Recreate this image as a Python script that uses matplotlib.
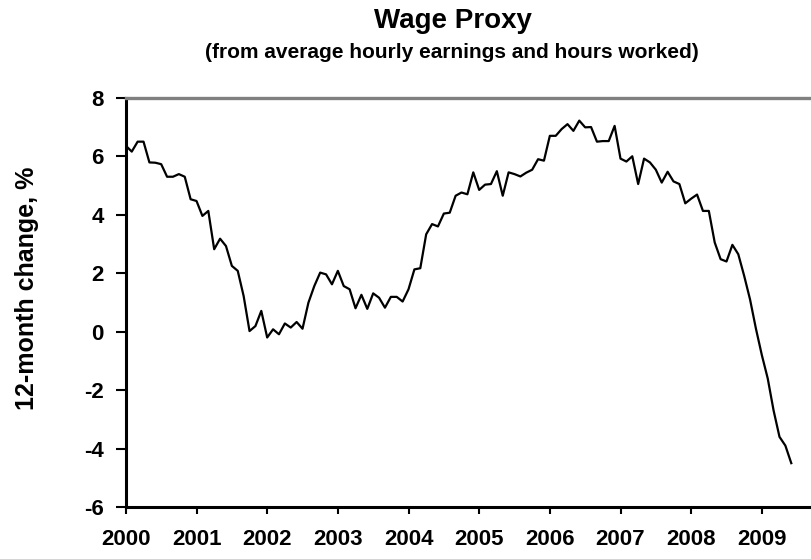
import numpy as np
import matplotlib
matplotlib.use("Agg")
import matplotlib.pyplot as plt

plt.rcParams['font.family'] = ['Liberation Sans', 'DejaVu Sans']
plt.rcParams['font.weight'] = 'bold'

# monthly 12-month change, Jan 2000 .. Jun 2009
wage_proxy = [
    6.36, 6.16, 6.50, 6.50, 5.79, 5.78, 5.73, 5.30, 5.30, 5.39, 5.30, 4.53,   # 2000
    4.47, 3.96, 4.13, 2.82, 3.18, 2.93, 2.25, 2.08, 1.22, 0.02, 0.19, 0.71,   # 2001
    -0.20, 0.08, -0.09, 0.28, 0.14, 0.33, 0.10, 0.99, 1.56, 2.02, 1.96, 1.62,  # 2002
    2.08, 1.56, 1.45, 0.80, 1.26, 0.78, 1.31, 1.16, 0.82, 1.19, 1.19, 1.03,   # 2003
    1.45, 2.13, 2.17, 3.33, 3.68, 3.60, 4.04, 4.07, 4.65, 4.76, 4.70, 5.45,   # 2004
    4.85, 5.03, 5.05, 5.49, 4.65, 5.45, 5.39, 5.31, 5.44, 5.54, 5.90, 5.85,   # 2005
    6.70, 6.70, 6.93, 7.10, 6.87, 7.22, 6.99, 7.00, 6.50, 6.52, 6.52, 7.04,   # 2006
    5.92, 5.82, 6.00, 5.05, 5.92, 5.79, 5.54, 5.10, 5.47, 5.14, 5.05, 4.39,   # 2007
    4.55, 4.69, 4.13, 4.13, 3.05, 2.48, 2.40, 2.97, 2.65, 1.91, 1.10, 0.10,   # 2008
    -0.80, -1.60, -2.70, -3.60, -3.90, -4.50,                                 # 2009
]
years = list(range(2000, 2010))
yticks = [-6, -4, -2, 0, 2, 4, 6, 8]

t = 2000 + np.arange(len(wage_proxy)) / 12.0

fig = plt.figure(figsize=(8.12, 5.59), dpi=100)
ax = fig.add_axes([0.155, 0.093, 0.845, 0.732])

ax.plot(t, wage_proxy, color='black', lw=1.6)

ax.set_xlim(2000, 2009.71)
ax.set_ylim(-6, 8)
ax.set_xticks(years)
ax.set_xticklabels([str(y) for y in years], fontsize=16, fontweight='bold')
ax.set_yticks(yticks)
ax.set_yticklabels([str(v) for v in yticks], fontsize=16, fontweight='bold')

ax.spines['right'].set_visible(False)
ax.spines['left'].set_linewidth(2.2)
ax.spines['bottom'].set_linewidth(2.2)
ax.spines['top'].set_color('#808080')
ax.spines['top'].set_linewidth(2.4)

ax.tick_params(axis='y', direction='out', length=7, width=1.5, pad=9)
ax.tick_params(axis='x', direction='out', length=5, width=1.5, pad=11)

fig.text(27 / 812, 1 - 288 / 559, '12-month change, %', rotation=90,
         ha='center', va='center', fontsize=18, fontweight='bold')

fig.text(453 / 812, 1 - 28 / 559, 'Wage Proxy', ha='center', va='baseline',
         fontsize=20, fontweight='bold')
fig.text(452 / 812, 1 - 58 / 559, '(from average hourly earnings and hours worked)',
         ha='center', va='baseline', fontsize=15, fontweight='bold')

fig.savefig('out.png', dpi=100)
